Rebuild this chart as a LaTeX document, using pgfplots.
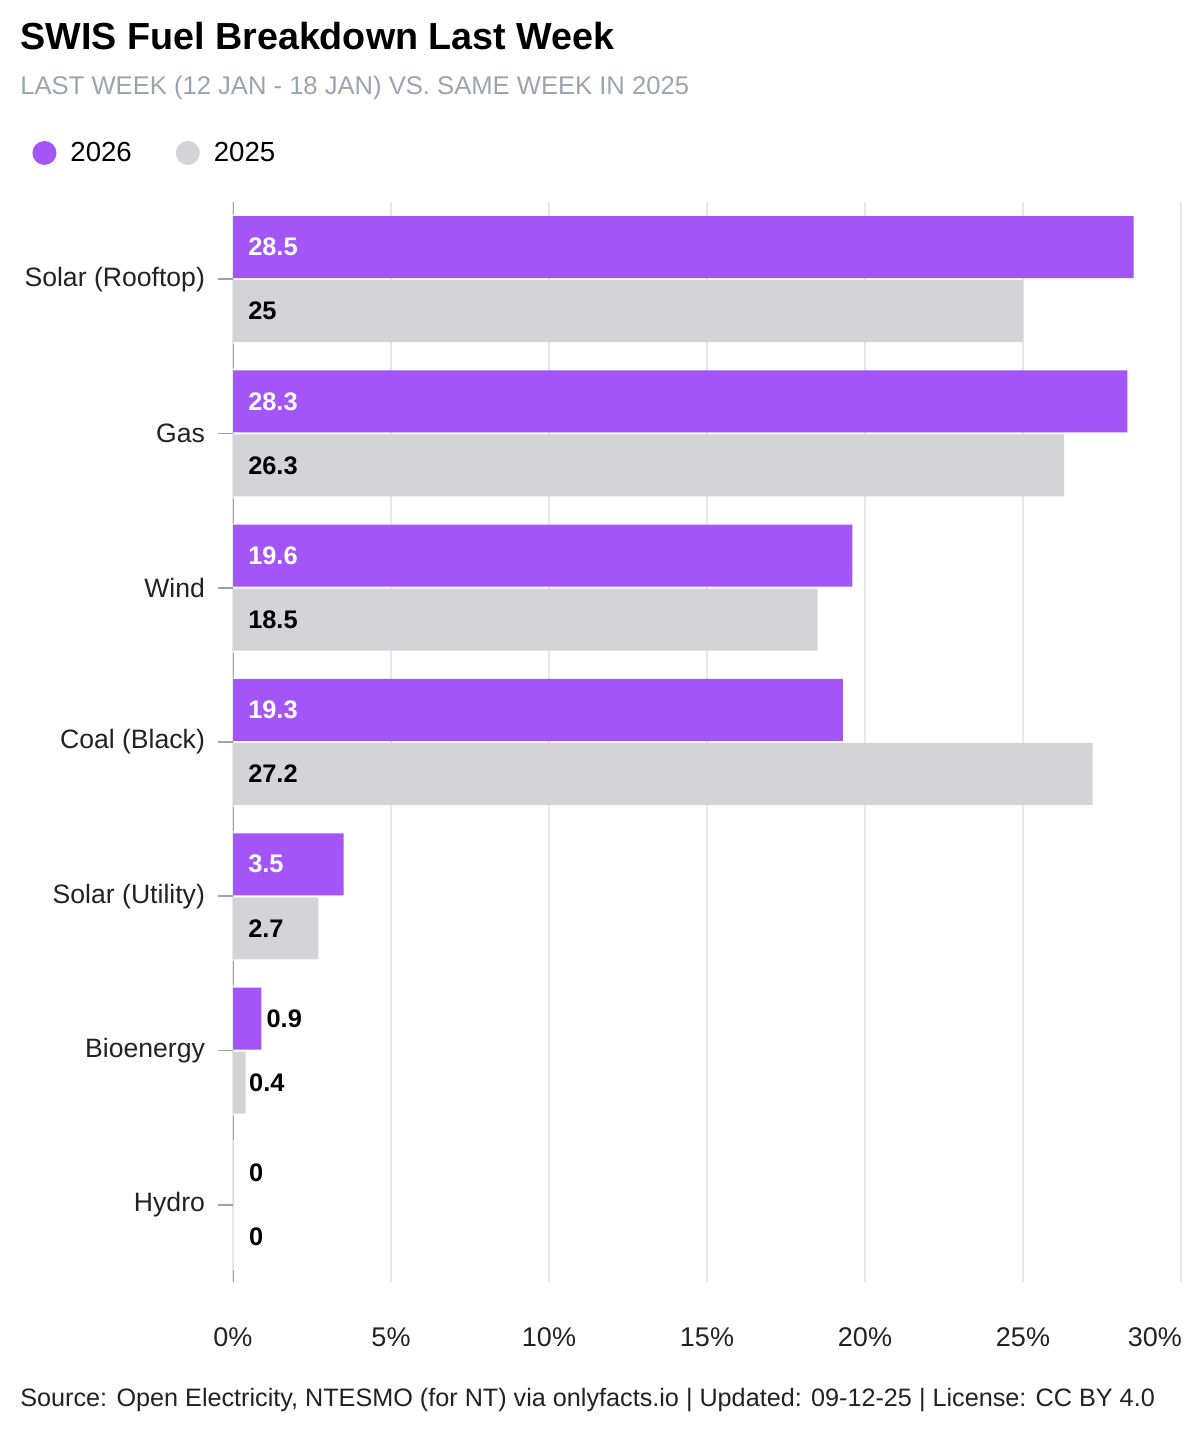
\documentclass[border=0pt]{standalone}
\usepackage{fontspec}
\setmainfont{Liberation Sans}
\usepackage{pgfplots}
\pgfplotsset{compat=1.18}
\usepackage{pgfplotstable}
\definecolor{cpurple}{HTML}{A455F7}
\definecolor{cgray}{HTML}{D4D4D8}
\definecolor{csub}{HTML}{9CA3AF}
\definecolor{cgrid}{HTML}{E5E7EB}
\definecolor{caxis}{HTML}{9CA3AF}
\definecolor{ctext}{HTML}{222222}

\pgfplotstableread{
y v
6 28.5
5 28.3
4 19.6
3 19.3
2 3.5
1 0.9
0 0
}\newdata
\pgfplotstableread{
y v
6 25
5 26.3
4 18.5
3 27.2
2 2.7
1 0.4
0 0
}\olddata
\pgfplotstableread{
x y label
0.47 6.2078 28.5
0.47 5.2078 28.3
0.47 4.2078 19.6
0.47 3.2078 19.3
0.47 2.2078 3.5
}\whitelabels
\pgfplotstableread{
x y label
0.47 5.7922 25
0.47 4.7922 26.3
0.47 3.7922 18.5
0.47 2.7922 27.2
0.47 1.7922 2.7
0.50 0.7922 0.4
0.50 -0.2078 0
1.05 1.2078 0.9
0.50 0.2078 0
}\blacklabels

\begin{document}
\begin{tikzpicture}
\useasboundingbox (0,0) rectangle (600pt,720pt);
\begin{axis}[
  at={(116.5pt,79pt)}, anchor=south west,
  scale only axis, width=474pt, height=540pt,
  xmin=0, xmax=30, ymin=-0.5, ymax=6.5,
  xtick={0,5,...,25},
  extra x ticks={30},
  extra x tick style={xticklabel style={anchor=north east, xshift=4pt}},
  xticklabel={\pgfmathprintnumber{\tick}\%},
  /pgf/number format/assume math mode=true,
  xtick style={draw=none},
  xmajorgrids, grid style={color=cgrid, line width=0.9pt},
  ytick={0,...,6},
  yticklabels={Hydro,Bioenergy,Solar (Utility),Coal (Black),Wind,Gas,Solar (Rooftop)},
  ytick pos=left, tick align=outside, major tick length=7.5pt,
  ytick style={draw=caxis, line width=0.8pt},
  axis line style={draw=none},
  tick label style={text=ctext},
  xticklabel style={yshift=-12pt, font=\fontsize{13.5}{15}\selectfont},
  yticklabel style={xshift=-3pt, font=\fontsize{13.3}{15}\selectfont},
  legend style={at={(-0.212,1.0454)}, anchor=west, draw=none, fill=none,
    legend columns=2, font=\fontsize{13.8}{15}\selectfont,
    /tikz/every even column/.append style={column sep=20pt},
    legend cell align=left, inner sep=0pt},
]
\addplot[xbar, bar width=31pt, bar shift=16pt, fill=cpurple, draw=none,
  legend image code/.code={\fill[cpurple] (6pt,0pt) circle (6pt); \path (17pt,0pt);}]
  table[x=v, y=y] {\newdata};
\addlegendentry{2026}
\addplot[xbar, bar width=31pt, bar shift=-16pt, fill=cgray, draw=none,
  legend image code/.code={\fill[cgray] (6pt,0pt) circle (6pt); \path (17pt,0pt);}]
  table[x=v, y=y] {\olddata};
\addlegendentry{2025}
% zero-line segments at category boundaries
\addplot[caxis, line width=1pt, forget plot] coordinates {
(0,-0.5) (0,-0.422)

(0,0.422) (0,0.578)

(0,1.422) (0,1.578)

(0,2.422) (0,2.578)

(0,3.422) (0,3.578)

(0,4.422) (0,4.578)

(0,5.422) (0,5.578)

(0,6.422) (0,6.5)
};
\addplot[draw=none, mark=none, forget plot, nodes near coords, point meta=explicit symbolic,
  every node near coord/.append style={anchor=west, inner sep=0pt, text=white,
  font=\fontsize{12.7}{14}\selectfont\bfseries}]
  table[x=x, y=y, meta=label] {\whitelabels};
\addplot[draw=none, mark=none, forget plot, nodes near coords, point meta=explicit symbolic,
  every node near coord/.append style={anchor=west, inner sep=0pt, text=black,
  font=\fontsize{12.7}{14}\selectfont\bfseries}]
  table[x=x, y=y, meta=label] {\blacklabels};
\end{axis}
\node[anchor=base west, inner sep=0pt, font=\fontsize{18.85}{22}\selectfont\bfseries]
  at (10pt,695pt) {SWIS Fuel Breakdown Last Week};
\node[anchor=base west, inner sep=0pt, text=csub, font=\fontsize{12.8}{15}\selectfont]
  at (10pt,672.5pt) {LAST WEEK (12 JAN - 18 JAN) VS. SAME WEEK IN 2025};
\node[anchor=base west, inner sep=0pt, text=ctext, font=\fontsize{12.6}{14}\selectfont]
  at (10pt,16.5pt) {Source: Open Electricity, NTESMO (for NT) via onlyfacts.io | Updated: 09-12-25 | License: CC BY 4.0};
\end{tikzpicture}
\end{document}
